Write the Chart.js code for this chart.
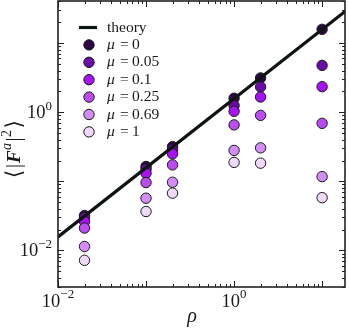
<!DOCTYPE html>
<html>
<head>
<meta charset="utf-8">
<script src="https://cdn.jsdelivr.net/npm/chart.js@4.4.1/dist/chart.umd.min.js"></script>
<style>
html, body { margin: 0; padding: 0; background: #fff; }
#wrap { width: 349px; height: 328px; }
</style>
</head>
<body>
<div id="wrap"><canvas id="forceChart" width="349" height="328"></canvas></div>
<script>
// data
var rho = [0.02, 0.1, 0.2, 1, 2, 10];
var muLabels = ["0", "0.05", "0.1", "0.25", "0.69", "1"];
var muColors = ["#2c0745", "#6a0ba8", "#a613f2", "#ba4cf0", "#d38df6", "#efd9fb"];
var force_mu0 = [0.032, 0.164, 0.318, 1.59, 3.13, 15.8];
var force_mu005 = [0.030, 0.150, 0.292, 1.25, 2.32, 4.75];
var force_mu01 = [0.0262, 0.131, 0.250, 1.03, 1.66, 2.34];
var force_mu025 = [0.0211, 0.096, 0.173, 0.655, 0.90, 0.69];
var force_mu069 = [0.0114, 0.057, 0.097, 0.280, 0.305, 0.117];
var force_mu1 = [0.0072, 0.0366, 0.0675, 0.188, 0.183, 0.058];
var theoryRho = [0.01, 20];
var theoryF = [0.0157, 31.4];
var xTickLabels = [{ v: 0.01, exp: "\u22122" }, { v: 1, exp: "0" }];
var yTickLabels = [{ v: 0.01, exp: "\u22122" }, { v: 1, exp: "0" }];

var SERIF = '"Liberation Serif", "DejaVu Serif", serif';
var allForces = [force_mu0, force_mu005, force_mu01, force_mu025, force_mu069, force_mu1];

function pts(xs, ys) {
    return xs.map(function (x, i) { return { x: x, y: ys[i] }; });
}

var datasets = [{
    type: "line",
    label: "theory",
    data: pts(theoryRho, theoryF),
    borderColor: "#0e140e",
    borderWidth: 3.2,
    pointRadius: 0,
    fill: false,
    order: 0
}];
allForces.forEach(function (f, i) {
    datasets.push({
        type: "scatter",
        label: "\u03bc = " + muLabels[i],
        data: pts(rho, f),
        backgroundColor: muColors[i],
        borderColor: "#1a1a1a",
        borderWidth: 1,
        pointRadius: 5.2,
        order: 6 - i
    });
});

// log ticks 1..9 x 10^n inside [min, max]
function logTicks(min, max) {
    var out = [];
    for (var e = Math.floor(Math.log10(min)); e <= Math.ceil(Math.log10(max)); e++) {
        for (var k = 1; k <= 9; k++) {
            var v = k * Math.pow(10, e);
            if (v >= min * 0.9999 && v <= max * 1.0001) out.push({ v: v, major: k === 1 });
        }
    }
    return out;
}

function drawPower(ctx, x, y, exp, size, align) {
    ctx.font = size + "px " + SERIF;
    var baseW = ctx.measureText("10").width;
    ctx.font = (size * 0.7) + "px " + SERIF;
    var expW = ctx.measureText(exp).width;
    var total = baseW + expW;
    var left = align === "right" ? x - total : x - total / 2;
    ctx.textBaseline = "middle";
    ctx.textAlign = "left";
    ctx.font = size + "px " + SERIF;
    ctx.fillText("10", left, y);
    ctx.font = (size * 0.7) + "px " + SERIF;
    ctx.fillText(exp, left + baseW, y - size * 0.38);
}

var axesPlugin = {
    id: "axesPlugin",
    afterDatasetsDraw: function (chart) {
        var ctx = chart.ctx, a = chart.chartArea;
        var xs = chart.scales.x, ys = chart.scales.y;
        ctx.save();
        ctx.strokeStyle = "#222";
        ctx.lineWidth = 1;
        logTicks(xs.min, xs.max).forEach(function (t) {
            var px = Math.round(xs.getPixelForValue(t.v)) + 0.5;
            var len = t.major ? 6 : 3;
            ctx.beginPath();
            ctx.moveTo(px, a.bottom); ctx.lineTo(px, a.bottom - len);
            ctx.moveTo(px, a.top); ctx.lineTo(px, a.top + len);
            ctx.stroke();
        });
        logTicks(ys.min, ys.max).forEach(function (t) {
            var py = Math.round(ys.getPixelForValue(t.v)) + 0.5;
            var len = t.major ? 6 : 3;
            ctx.beginPath();
            ctx.moveTo(a.left, py); ctx.lineTo(a.left + len, py);
            ctx.moveTo(a.right, py); ctx.lineTo(a.right - len, py);
            ctx.stroke();
        });
        ctx.lineWidth = 1.6;
        ctx.strokeRect(a.left, a.top, a.right - a.left, a.bottom - a.top);

        ctx.fillStyle = "#1a1a1a";
        xTickLabels.forEach(function (t) {
            drawPower(ctx, xs.getPixelForValue(t.v), a.bottom + 15, t.exp, 18.5, "center");
        });
        yTickLabels.forEach(function (t) {
            drawPower(ctx, a.left - 6, ys.getPixelForValue(t.v) + 1, t.exp, 18.5, "right");
        });

        // x title
        ctx.font = "italic 20px " + SERIF;
        ctx.textAlign = "center";
        ctx.textBaseline = "middle";
        ctx.fillText("\u03c1", 192, a.bottom + 30);

        // y title  <|F^a|^2>
        var parts = [
            { t: "\u27e8", f: "22px " + SERIF, dy: 0, gap: 1.5 },
            { t: "|", f: "20px " + SERIF, dy: 0, gap: 1 },
            { t: "F", f: "italic bold 19px " + SERIF, dy: 0, gap: 0.5 },
            { t: "a", f: "italic 14px " + SERIF, dy: -8, gap: 1.5 },
            { t: "|", f: "20px " + SERIF, dy: 0, gap: 0.5 },
            { t: "2", f: "14px " + SERIF, dy: -8, gap: 1.5 },
            { t: "\u27e9", f: "22px " + SERIF, dy: 0, gap: 0 }
        ];
        var total = 0;
        parts.forEach(function (p) { ctx.font = p.f; p.w = ctx.measureText(p.t).width + p.gap; total += p.w; });
        ctx.translate(15, 149);
        ctx.rotate(-Math.PI / 2);
        ctx.textAlign = "left";
        var cx = -total / 2;
        parts.forEach(function (p) { ctx.font = p.f; ctx.fillText(p.t, cx, p.dy); cx += p.w; });
        ctx.restore();
    }
};

var legendPlugin = {
    id: "legendPlugin",
    afterDraw: function (chart) {
        var ctx = chart.ctx, a = chart.chartArea;
        var x0 = a.left + 21, y0 = a.top + 26.5, step = 17.4;
        ctx.save();
        ctx.strokeStyle = "#0e140e";
        ctx.lineWidth = 3.2;
        ctx.beginPath();
        ctx.moveTo(x0, y0); ctx.lineTo(x0 + 18, y0);
        ctx.stroke();
        ctx.fillStyle = "#1a1a1a";
        ctx.textBaseline = "middle";
        ctx.textAlign = "left";
        ctx.font = "15.5px " + SERIF;
        ctx.fillText("theory", x0 + 28, y0);
        muLabels.forEach(function (m, i) {
            var y = y0 + step * (i + 1);
            ctx.beginPath();
            ctx.arc(x0 + 10, y, 5.2, 0, Math.PI * 2);
            ctx.fillStyle = muColors[i];
            ctx.fill();
            ctx.lineWidth = 1;
            ctx.strokeStyle = "#1a1a1a";
            ctx.stroke();
            ctx.fillStyle = "#1a1a1a";
            ctx.font = "italic 15.5px " + SERIF;
            ctx.fillText("\u03bc", x0 + 28, y);
            ctx.font = "15.5px " + SERIF;
            ctx.fillText("=", x0 + 41, y);
            ctx.fillText(m, x0 + 53, y);
        });
        ctx.restore();
    }
};

new Chart(document.getElementById("forceChart").getContext("2d"), {
    data: { datasets: datasets },
    options: {
        responsive: false,
        animation: false,
        devicePixelRatio: 1,
        layout: { autoPadding: false, padding: { left: 58, right: 4, top: 1, bottom: 41 } },
        plugins: { legend: { display: false }, tooltip: { enabled: false } },
        scales: {
            x: { type: "logarithmic", min: 0.01, max: 18.2, display: false },
            y: { type: "logarithmic", min: 0.00296, max: 40.6, display: false }
        }
    },
    plugins: [axesPlugin, legendPlugin]
});
</script>
</body>
</html>
